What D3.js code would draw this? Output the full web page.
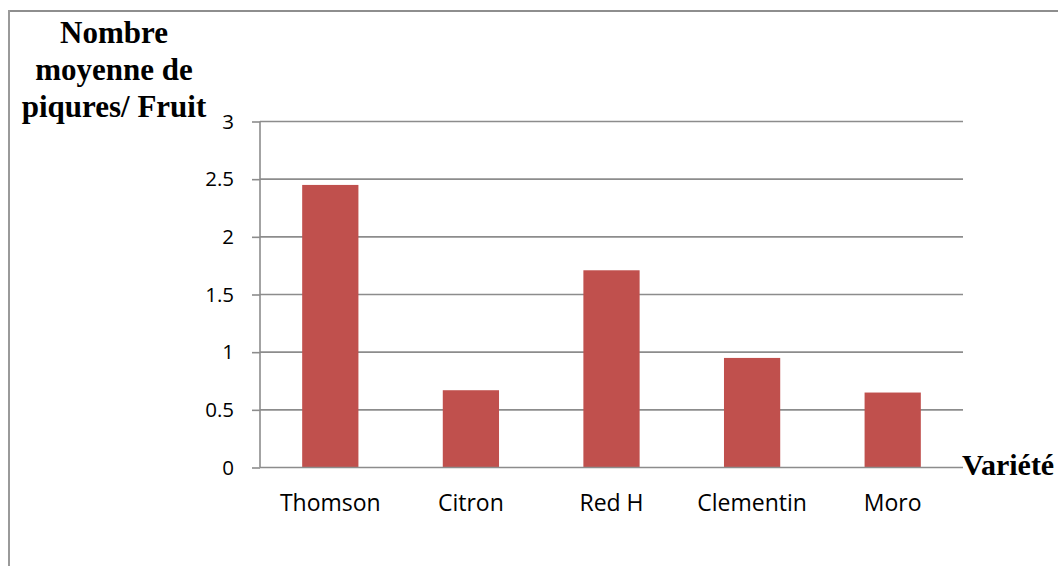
<!DOCTYPE html>
<html>
<head>
<meta charset="utf-8">
<script src="https://cdn.jsdelivr.net/npm/d3@7"></script>
<style>
  html, body { margin: 0; padding: 0; background: #fff; }
  svg { display: block; }
</style>
</head>
<body>
<svg id="chart" width="1058" height="566"></svg>
<script>
const categories = ["Thomson", "Citron", "Red H", "Clementin", "Moro"];
const values = [2.45, 0.67, 1.71, 0.95, 0.65];
const yTicks = [0, 0.5, 1, 1.5, 2, 2.5, 3];
const yTitleLines = ["Nombre", "moyenne de", "piqures/ Fruit"];
const xTitle = "Variété";

const svg = d3.select("#chart");
const W = 1058, H = 566;
const plot = { left: 260, right: 963, top: 121.5, bottom: 467.5 };
const gridColor = "#8c8c8c";

// outer chart border (only top and left visible)
svg.append("line").attr("x1", 9).attr("x2", W).attr("y1", 11).attr("y2", 11)
  .attr("stroke", "#8e8e8e").attr("stroke-width", 2);
svg.append("line").attr("x1", 9).attr("x2", 9).attr("y1", 10).attr("y2", H)
  .attr("stroke", "#9a9a9a").attr("stroke-width", 2);

const x = d3.scaleBand().domain(categories).range([plot.left, plot.right]).padding(0);
const y = d3.scaleLinear().domain([0, 3]).range([plot.bottom, plot.top]);

// gridlines
svg.append("g").selectAll("line").data(yTicks.filter(d => d > 0)).join("line")
  .attr("x1", plot.left).attr("x2", plot.right)
  .attr("y1", d => y(d)).attr("y2", d => y(d))
  .attr("stroke", gridColor).attr("stroke-width", 1.6);

// bars
const barW = x.bandwidth() * 0.4;
svg.append("g").selectAll("rect").data(categories).join("rect")
  .attr("x", (d) => x(d) + (x.bandwidth() - barW) / 2)
  .attr("width", barW)
  .attr("y", (d, i) => y(values[i]))
  .attr("height", (d, i) => y(0) - y(values[i]))
  .attr("fill", "#C0504D");

// y axis
const yAxis = d3.axisLeft(y).tickValues(yTicks).tickSize(8).tickPadding(18)
  .tickFormat(d => String(d));
const gy = svg.append("g").attr("transform", `translate(${plot.left},0)`).call(yAxis);
gy.select(".domain").attr("stroke", gridColor).attr("stroke-width", 1.6)
  .attr("d", `M0,${plot.top}V${plot.bottom}`);
gy.selectAll(".tick line").attr("stroke", gridColor).attr("stroke-width", 1.6);
gy.selectAll(".tick text").attr("font-family", "'Open Sans', sans-serif")
  .attr("font-size", 20.5).attr("fill", "#000");

// x axis
const xAxis = d3.axisBottom(x).tickSize(0).tickPadding(27);
const gx = svg.append("g").attr("transform", `translate(0,${plot.bottom})`).call(xAxis);
gx.select(".domain").attr("stroke", gridColor).attr("stroke-width", 1.6)
  .attr("d", `M${plot.left},0H${plot.right}`);
gx.selectAll(".tick text").attr("font-family", "'Open Sans', sans-serif")
  .attr("font-size", 23).attr("fill", "#000");

// y title
const yt = svg.append("text").attr("font-family", "'Liberation Serif', 'Times New Roman', serif")
  .attr("font-weight", "bold").attr("font-size", 31).attr("text-anchor", "middle").attr("fill", "#000");
yTitleLines.forEach((t, i) => {
  yt.append("tspan").attr("x", 114).attr("y", 43 + i * 37).text(t);
});

// x title
svg.append("text").attr("x", 962).attr("y", 475)
  .attr("font-family", "'Liberation Serif', 'Times New Roman', serif")
  .attr("font-weight", "bold").attr("font-size", 30).attr("fill", "#000")
  .text(xTitle);
</script>
</body>
</html>
